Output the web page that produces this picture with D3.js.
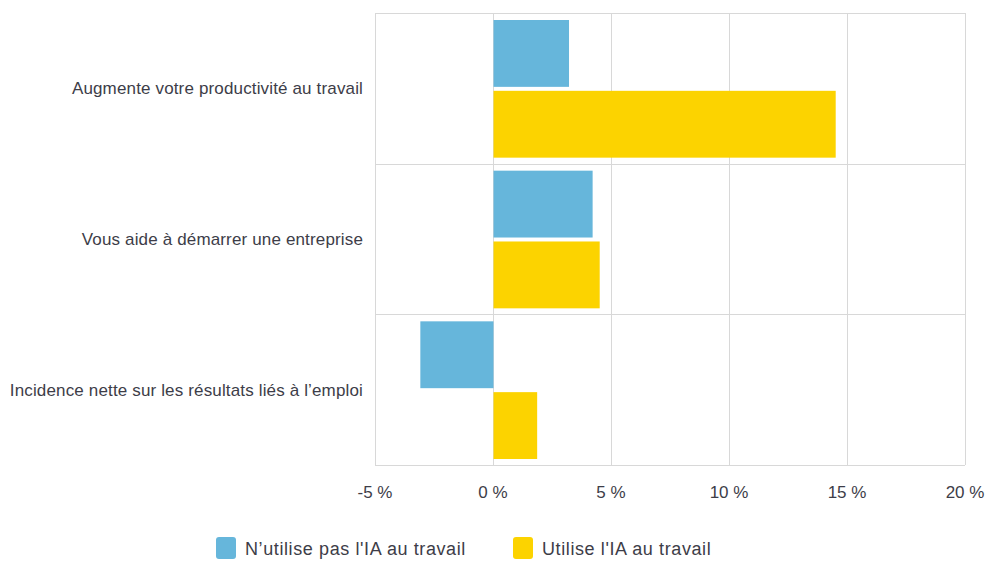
<!DOCTYPE html>
<html lang="fr">
<head>
<meta charset="utf-8">
<title>IA au travail</title>
<script src="https://cdn.jsdelivr.net/npm/d3@7"></script>
<style>
  body { margin: 0; background: #fff; }
  svg { display: block; font-family: "Liberation Sans", Arial, sans-serif; }
</style>
</head>
<body>
<div id="chart"></div>
<script>
const categories = [
  "Augmente votre productivité au travail",
  "Vous aide à démarrer une entreprise",
  "Incidence nette sur les résultats liés à l’emploi"
];
const seriesNames = ["N’utilise pas l'IA au travail", "Utilise l'IA au travail"];
const nonUsers = [3.2, 4.2, -3.1];
const users = [14.5, 4.5, 1.85];
const xTicks = [-5, 0, 5, 10, 15, 20];
const colors = ["#66b6db", "#fcd300"];

const width = 986, height = 561;
const margin = {top: 13, right: 21, bottom: 96, left: 375};
const textColor = "#3d3d48";

const svg = d3.select("#chart").append("svg")
    .attr("width", width)
    .attr("height", height);

const x = d3.scaleLinear()
    .domain([-5, 20])
    .range([margin.left, width - margin.right]);

const y = d3.scaleBand()
    .domain(categories)
    .range([margin.top, height - margin.bottom]);

const inner = d3.scaleBand()
    .domain(seriesNames)
    .range([7, y.bandwidth() - 6])
    .paddingInner(0.056);

// grid
svg.append("g")
  .selectAll("line")
  .data(xTicks)
  .join("line")
    .attr("x1", d => x(d) + 0.5)
    .attr("x2", d => x(d) + 0.5)
    .attr("y1", margin.top)
    .attr("y2", height - margin.bottom)
    .attr("stroke", "#d8d8d8");

svg.append("g")
  .selectAll("line")
  .data(categories.slice(1).map(c => y(c)).concat([margin.top, height - margin.bottom]))
  .join("line")
    .attr("x1", margin.left)
    .attr("x2", width - margin.right)
    .attr("y1", d => Math.round(d) + 0.5)
    .attr("y2", d => Math.round(d) + 0.5)
    .attr("stroke", "#d8d8d8");

// bars
const rows = categories.map((c, i) => ({cat: c, vals: [nonUsers[i], users[i]]}));
const grp = svg.append("g")
  .selectAll("g")
  .data(rows)
  .join("g")
    .attr("transform", d => `translate(0,${y(d.cat)})`);

grp.selectAll("rect")
  .data(d => d.vals.map((v, j) => ({v, s: seriesNames[j], j})))
  .join("rect")
    .attr("x", d => x(Math.min(0, d.v)) + 0.5)
    .attr("width", d => Math.abs(x(d.v) - x(0)))
    .attr("y", d => inner(d.s))
    .attr("height", inner.bandwidth())
    .attr("fill", d => colors[d.j]);

// category labels
svg.append("g")
  .selectAll("text")
  .data(categories)
  .join("text")
    .attr("x", margin.left - 12)
    .attr("y", d => y(d) + y.bandwidth() / 2)
    .attr("dy", "0.35em")
    .attr("text-anchor", "end")
    .attr("font-size", 17)
    .attr("letter-spacing", 0.15)
    .attr("fill", textColor)
    .text(d => d);

// x axis labels
svg.append("g")
  .selectAll("text")
  .data(xTicks)
  .join("text")
    .attr("x", d => x(d))
    .attr("y", height - margin.bottom + 27)
    .attr("dy", "0.35em")
    .attr("text-anchor", "middle")
    .attr("font-size", 17)
    .attr("fill", textColor)
    .text(d => d + " %");

// legend
const legendX = [216, 513];
const lg = svg.append("g")
  .selectAll("g")
  .data(seriesNames)
  .join("g")
    .attr("transform", (d, i) => `translate(${legendX[i]},537)`);

lg.append("rect")
    .attr("width", 20)
    .attr("height", 22)
    .attr("rx", 3)
    .attr("fill", (d, i) => colors[i]);

lg.append("text")
    .attr("x", 29)
    .attr("y", 12)
    .attr("dy", "0.35em")
    .attr("font-size", 18)
    .attr("letter-spacing", 0.6)
    .attr("fill", textColor)
    .text(d => d);
</script>
</body>
</html>
